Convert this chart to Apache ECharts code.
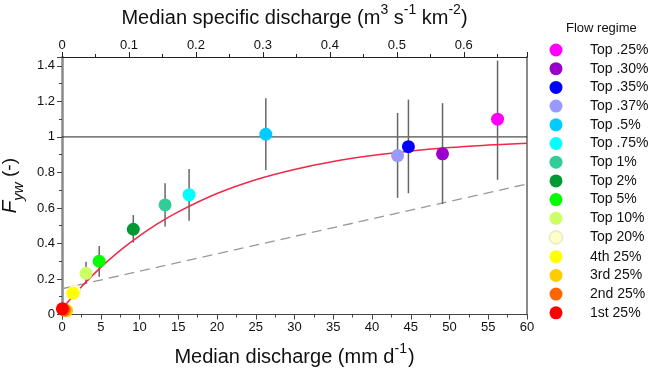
<!DOCTYPE html>
<html><head><meta charset="utf-8">
<script src="https://cdn.jsdelivr.net/npm/echarts@6/dist/echarts.min.js"></script>
<style>html,body{margin:0;padding:0;background:#fff}#c{width:650px;height:368px}</style>
</head><body><div id="c"></div>
<script>
// ---- data ----
const regimes = ['Top .25%','Top .30%','Top .35%','Top .37%','Top .5%','Top .75%','Top 1%','Top 2%','Top 5%','Top 10%','Top 20%','4th 25%','3rd 25%','2nd 25%','1st 25%'];
const regimeColors = ['#FF00FF','#9900CC','#0000FF','#9999FF','#00CCFF','#00FFFF','#33CC99','#009933','#00FF00','#CCFF66','#FFFFCC','#FFFF00','#FFCC00','#FF6600','#FF0000'];
const medianQ = [56.2, 49.1, 44.7, 43.3, 26.3, 16.4, 13.3, 9.2, 4.8, 3.1, 1.6, 1.4, 0.6, 0.3, 0.05];
const fyw =     [1.10, 0.905, 0.945, 0.895, 1.015, 0.675, 0.617, 0.48, 0.30, 0.232, 0.13, 0.12, 0.022, 0.025, 0.032];
const fywLow =  [0.758, 0.622, 0.683, 0.657, 0.814, 0.528, 0.495, 0.405, 0.213, 0.175, null, null, null, null, null];
const fywHigh = [1.43, 1.19, 1.21, 1.135, 1.218, 0.82, 0.739, 0.56, 0.386, 0.297, null, null, null, null, null];
const fitX = [0, 2, 4, 6, 8, 10, 12, 15, 20, 25, 30, 35, 40, 45, 50, 55, 60];
const fitY = [0.03, 0.132, 0.223, 0.305, 0.378, 0.443, 0.502, 0.578, 0.681, 0.759, 0.817, 0.862, 0.895, 0.92, 0.94, 0.954, 0.965];
const dashX = [0, 60];
const dashY = [0.145, 0.735];
const refY = 1;
const xTicks = {min: 0, max: 60, interval: 5};
const xTopTicks = {min: 0, max: 0.6944, interval: 0.1};
const yTicks = {min: 0, max: 1.45, interval: 0.2};

const FONT = 'Liberation Sans, Arial, sans-serif';
const chart = echarts.init(document.getElementById('c'), null, {renderer: 'canvas'});

const errData = [];
for (let i = 0; i < regimes.length; i++) {
  if (fywLow[i] != null) errData.push([medianQ[i], fywLow[i], fywHigh[i]]);
}

const series = [
  {
    type: 'line', name: 'ref', data: [[xTicks.min, refY], [xTicks.max, refY]],
    symbol: 'none', lineStyle: {color: '#222', width: 1}, z: 1, silent: true
  },
  {
    type: 'line', name: 'dash', data: dashX.map((x, i) => [x, dashY[i]]),
    symbol: 'none', lineStyle: {color: '#999', width: 1.3, type: [10, 6]}, z: 1, silent: true
  },
  {
    type: 'line', name: 'fit', data: fitX.map((x, i) => [x, fitY[i]]),
    symbol: 'none', smooth: 0.4, lineStyle: {color: '#F0284A', width: 1.5}, z: 2, silent: true
  },
  {
    type: 'custom', name: 'err', data: errData, z: 2,
    renderItem: function (params, api) {
      const p1 = api.coord([api.value(0), api.value(1)]);
      const p2 = api.coord([api.value(0), api.value(2)]);
      return {type: 'line', shape: {x1: p1[0], y1: p1[1], x2: p2[0], y2: p2[1]},
        style: {stroke: '#666', lineWidth: 1.5}};
    }
  }
];
regimes.forEach((r, i) => {
  series.push({
    type: 'scatter', name: r, data: [[medianQ[i], fyw[i]]],
    symbol: 'circle', symbolSize: 13, z: 5 + i,
    itemStyle: {color: regimeColors[i], opacity: 1,
      borderColor: r === 'Top 20%' ? '#EEEEC8' : regimeColors[i], borderWidth: r === 'Top 20%' ? 0.6 : 0}
  });
});

const tickLabel = {fontFamily: FONT, fontSize: 13, color: '#111'};

chart.setOption({
  animation: false,
  backgroundColor: '#fff',
  title: {text: 'Flow regime', left: 566, top: 22, padding: 0,
    textStyle: {fontFamily: FONT, fontSize: 13, fontWeight: 'normal', color: '#111'}},
  legend: {
    data: regimes, orient: 'vertical', left: 548.5, top: 43, padding: 0,
    itemWidth: 13, itemHeight: 13, itemGap: 4.7, icon: 'circle',
    textStyle: {fontFamily: FONT, fontSize: 14, color: '#111', padding: [0, 0, 0, 22.5]},
    selectedMode: false
  },
  grid: {left: 62, right: 123, top: 57, bottom: 53.5, containLabel: false, outerBoundsMode: 'none'},
  xAxis: [
    {
      type: 'value', position: 'bottom', min: xTicks.min, max: xTicks.max, interval: xTicks.interval,
      axisLine: {lineStyle: {color: '#444', width: 1}},
      axisTick: {inside: false, length: 5, lineStyle: {color: '#444'}},
      minorTick: {show: true, splitNumber: 2, length: 3, lineStyle: {color: '#444'}},
      splitLine: {show: false},
      axisLabel: Object.assign({margin: 6}, tickLabel),
      name: '{t|Median discharge (mm d}{s|-1}{t|)}', nameLocation: 'middle', nameGap: 28,
      nameTextStyle: {rich: {
        t: {fontFamily: FONT, fontSize: 20, color: '#111', lineHeight: 25, verticalAlign: 'bottom'},
        s: {fontFamily: FONT, fontSize: 14, color: '#111', lineHeight: 25, verticalAlign: 'top', padding: [0, 1, 0, 0]}
      }}
    },
    {
      type: 'value', position: 'top', min: xTopTicks.min, max: xTopTicks.max, interval: xTopTicks.interval,
      axisLine: {onZero: false, lineStyle: {color: '#222', width: 1}},
      axisTick: {inside: false, length: 5, lineStyle: {color: '#222'}},
      minorTick: {show: true, splitNumber: 2, length: 3, lineStyle: {color: '#222'}},
      splitLine: {show: false},
      axisLabel: Object.assign({margin: 5, showMaxLabel: false}, tickLabel),
      name: '{t|Median specific discharge (m}{s|3}{t| s}{s|-1}{t| km}{s|-2}{t|)}', nameLocation: 'middle', nameGap: 29,
      nameTextStyle: {rich: {
        t: {fontFamily: FONT, fontSize: 20, color: '#111', lineHeight: 25, verticalAlign: 'bottom'},
        s: {fontFamily: FONT, fontSize: 14, color: '#111', lineHeight: 25, verticalAlign: 'top'}
      }}
    }
  ],
  yAxis: [
    {
      type: 'value', position: 'left', min: yTicks.min, max: yTicks.max, interval: yTicks.interval,
      axisLine: {onZero: false, lineStyle: {color: '#8a8a8a', width: 2.5}},
      axisTick: {inside: false, length: 5, lineStyle: {color: '#444'}},
      minorTick: {show: true, splitNumber: 2, length: 3, lineStyle: {color: '#444'}},
      splitLine: {show: false},
      axisLabel: Object.assign({margin: 7, showMaxLabel: false}, tickLabel),
      name: '{f|F}{b|yw}{t| (-)}', nameLocation: 'middle', nameGap: 34,
      nameTextStyle: {rich: {
        f: {fontFamily: FONT, fontSize: 21, fontStyle: 'italic', color: '#111', lineHeight: 26, verticalAlign: 'top'},
        b: {fontFamily: FONT, fontSize: 15, fontStyle: 'italic', color: '#111', lineHeight: 26, verticalAlign: 'bottom'},
        t: {fontFamily: FONT, fontSize: 19, color: '#111', lineHeight: 26, verticalAlign: 'top'}
      }}
    },
    {
      type: 'value', position: 'right', min: yTicks.min, max: yTicks.max, interval: yTicks.interval,
      axisLine: {show: true, onZero: false, lineStyle: {color: '#8a8a8a', width: 2}},
      axisTick: {show: false}, axisLabel: {show: false}, splitLine: {show: false}
    }
  ],
  series: series
});
</script></body></html>
